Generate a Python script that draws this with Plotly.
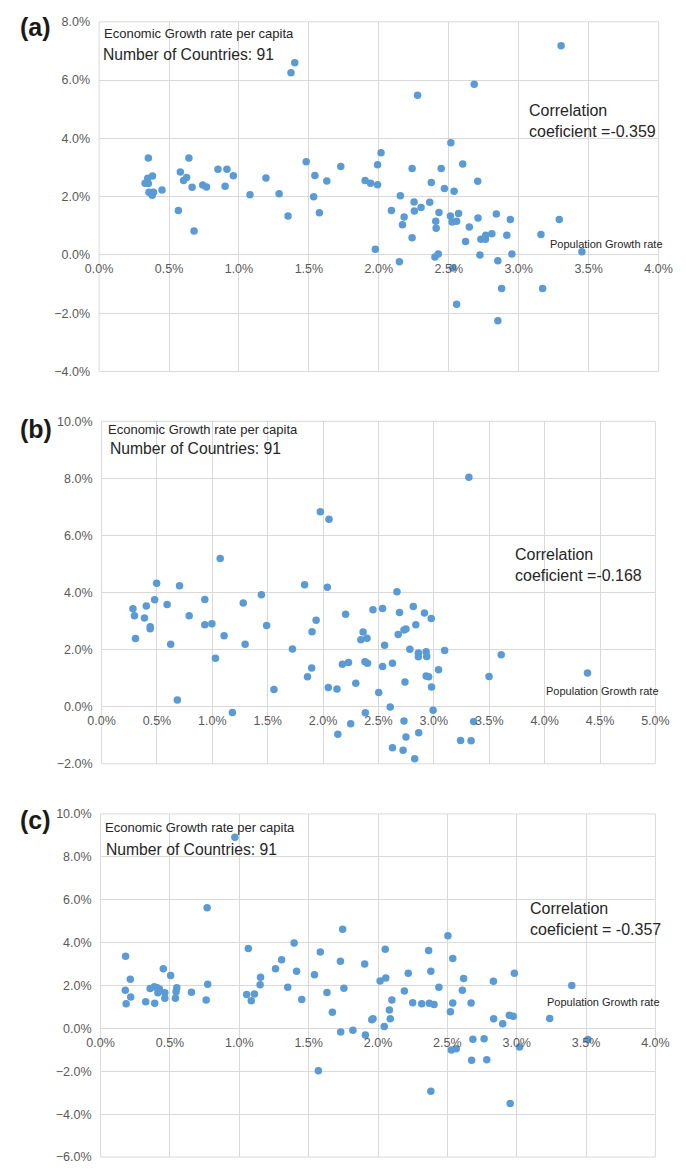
import plotly.graph_objects as go

W, H = 686, 1169

# ---------------- data (percent) ----------------
# Panel (a)
xa = [0.352,0.348,0.329,0.352,0.382,0.357,0.389,0.380,0.450,0.567,0.581,0.604,0.626,0.642,0.665,0.679,0.741,0.768,0.850,0.914,0.901,0.960,1.079,1.193,1.287,1.351,1.372,1.399,1.481,1.543,1.534,1.575,1.628,1.728,
      1.902,1.941,1.991,1.991,2.016,1.975,2.090,2.154,2.181,2.169,2.147,2.238,2.252,2.254,2.238,2.277,2.302,2.364,2.375,2.430,2.407,2.410,2.401,2.425,2.446,2.469,2.515,2.512,2.524,2.556,2.570,2.538,2.529,2.556,2.600,2.647,2.620,2.682,2.707,2.709,2.723,2.730,2.762,2.764,2.808,2.840,2.851,2.878,2.851,2.915,2.940,2.951,3.159,3.171,3.290,3.303,3.452]
ya = [3.33,2.63,2.46,2.45,2.71,2.15,2.15,2.05,2.23,1.53,2.85,2.56,2.66,3.33,2.32,0.82,2.40,2.33,2.94,2.94,2.36,2.72,2.07,2.64,2.10,1.34,6.25,6.60,3.20,2.73,2.00,1.45,2.54,3.04,
      2.56,2.46,2.41,3.10,3.51,0.20,1.53,2.03,1.30,1.04,-0.23,2.97,1.82,1.51,0.59,5.48,1.63,1.81,2.49,1.46,1.16,0.92,-0.07,0.03,2.97,2.28,3.85,1.34,1.13,1.16,1.42,2.19,-0.45,-1.69,3.12,0.96,0.46,5.86,2.53,1.27,0.00,0.54,0.54,0.68,0.73,1.41,-0.20,-1.15,-2.26,0.68,1.22,0.03,0.70,-1.15,1.22,7.18,0.11]

# Panel (b)
xb = [0.283,0.297,0.306,0.387,0.404,0.439,0.439,0.479,0.497,0.592,0.624,0.684,0.704,0.791,0.932,0.932,0.996,1.028,1.071,1.106,1.181,1.279,1.296,1.443,1.490,1.556,1.723,1.833,1.859,1.897,1.900,1.937,1.975,2.053,2.038,2.047,2.125,2.133,2.174,2.203,2.229,
      2.249,2.295,2.361,2.341,2.396,2.378,2.401,2.381,2.450,2.502,2.537,2.555,2.537,2.606,2.626,2.626,2.667,2.690,2.678,2.730,2.748,2.739,2.730,2.748,2.722,2.783,2.814,2.837,2.860,2.860,2.863,2.827,2.915,2.930,2.935,2.930,2.953,2.976,2.979,2.993,3.042,3.097,3.241,3.316,3.336,3.359,3.498,3.608,4.387]
yb = [3.43,3.19,2.39,3.11,3.53,2.80,2.73,3.75,4.33,3.58,2.19,0.24,4.24,3.19,3.76,2.87,2.91,1.70,5.19,2.49,-0.20,3.63,2.19,3.92,2.85,0.60,2.02,4.27,1.05,1.36,2.63,3.03,6.83,6.57,4.19,0.67,0.62,-0.96,1.49,3.24,1.55,
      -0.60,0.82,2.62,2.35,2.40,1.58,1.52,-0.21,3.40,0.50,3.44,2.15,1.41,-0.01,1.52,-1.44,4.03,3.30,2.53,2.69,2.72,0.87,-0.50,-1.06,-1.52,2.01,3.51,2.87,1.88,1.75,-0.91,-1.82,3.28,1.93,1.76,1.08,1.05,3.09,0.69,-0.12,1.30,1.97,-1.18,8.04,-1.19,-0.52,1.06,1.82,1.18]

# Panel (c)
xc = [0.180,0.178,0.184,0.214,0.217,0.325,0.357,0.387,0.390,0.408,0.413,0.424,0.452,0.463,0.463,0.505,0.539,0.544,0.549,0.655,0.761,0.768,0.772,0.968,1.053,1.065,1.086,1.109,1.150,1.153,1.261,1.305,1.349,1.395,1.413,1.450,1.542,1.570,1.584,1.632,1.671,1.729,1.731,1.745,1.754,
      1.819,1.904,1.909,1.955,1.964,2.015,2.045,2.052,2.056,2.082,2.088,2.100,2.190,2.218,2.250,2.315,2.365,2.370,2.381,2.381,2.404,2.439,2.504,2.522,2.539,2.539,2.529,2.564,2.608,2.617,2.671,2.675,2.684,2.765,2.784,2.832,2.834,2.899,2.947,2.975,2.953,2.983,3.020,3.238,3.397,3.513]
yc = [3.36,1.78,1.15,2.29,1.46,1.24,1.86,1.94,1.17,1.89,1.66,1.84,2.78,1.66,1.41,2.47,1.41,1.71,1.89,1.69,1.32,5.62,2.06,8.91,1.58,3.72,1.29,1.60,2.03,2.38,2.78,3.20,1.92,3.98,2.66,1.35,2.50,-1.98,3.56,1.67,0.75,3.13,-0.17,4.62,1.87,
      -0.09,3.00,-0.31,0.40,0.45,2.21,0.09,3.69,2.35,0.86,0.45,1.32,1.74,2.57,1.20,1.15,3.63,1.17,2.66,-2.93,1.11,1.92,4.32,0.78,3.26,1.18,-1.01,-0.95,1.78,2.33,1.18,-1.49,-0.51,-0.48,-1.46,2.20,0.45,0.22,0.61,0.57,-3.50,2.57,-0.87,0.46,2.00,-0.52]

panel_labels = ["(a)", "(b)", "(c)"]
corr_texts = ["Correlation<br>coeficient =-0.359",
              "Correlation<br>coeficient =-0.168",
              "Correlation<br>coeficient = -0.357"]
y_title = "Economic Growth rate per capita"
n_text = "Number of Countries: 91"
x_title = "Population Growth rate"
x_ranges = [(0, 4), (0, 5), (0, 4)]
y_ranges = [(-4, 8), (-2, 10), (-6, 10)]

# ---------------- layout geometry (pixels) ----------------
panels = [
    dict(l=88.7, r=672.0, t=15.0, b=369.0,
         lab=(5, 20), ytl=(93, 27), ntl=(92, 47.7), cor=(536, 115), pop=(557.7, 239.5)),
    dict(l=91.3, r=668.7, t=419.3, b=766.0,
         lab=(5, 427), ytl=(97.3, 427.7), ntl=(98.7, 446.7), cor=(521.3, 564.3), pop=(554, 692.3)),
    dict(l=90.3, r=668.7, t=816.7, b=1164.0,
         lab=(5, 823), ytl=(94, 830), ntl=(95, 852.3), cor=(537, 922.7), pop=(554.7, 1007.3)),
]

FONT = "Liberation Sans, Arial, sans-serif"
GRID = "#d9d9d9"
BLUE = "#5b9bd5"

def px(x):
    return x / W

def py(y):
    return 1 - y / H

fig = go.Figure()
datasets = [(xa, ya), (xb, yb), (xc, yc)]
annotations = []
shapes = []
layout = dict(width=W, height=H, margin=dict(l=0, r=0, t=0, b=0),
              paper_bgcolor="white", plot_bgcolor="white", showlegend=False,
              font=dict(family=FONT, color="#404040"))

for i, ((xs, ys), p) in enumerate(zip(datasets, panels)):
    sfx = "" if i == 0 else str(i + 1)
    fig.add_trace(go.Scatter(x=xs, y=ys, mode="markers",
                             xaxis="x" + sfx, yaxis="y" + sfx,
                             marker=dict(color=BLUE, size=7.5, line=dict(width=0)),
                             cliponaxis=False, hoverinfo="skip"))
    y0, y1 = y_ranges[i]
    zero_px = p["t"] + (p["b"] - p["t"]) * (y1 - 0) / (y1 - y0)
    layout["xaxis" + sfx] = dict(
        domain=[px(p["l"]), px(p["r"])], range=list(x_ranges[i]),
        anchor="free", position=py(zero_px),
        tick0=0, dtick=0.5, tickformat=".1f", ticksuffix="%",
        showgrid=True, gridcolor=GRID, gridwidth=1, zeroline=False, showline=False,
        ticks="", ticklabelstandoff=5,
        tickfont=dict(family=FONT, size=12.5, color="#595959"), fixedrange=True)
    layout["yaxis" + sfx] = dict(
        domain=[py(p["b"]), py(p["t"])], range=list(y_ranges[i]),
        anchor="x" + sfx, tick0=0, dtick=2, tickformat=".1f", ticksuffix="%",
        showgrid=True, gridcolor=GRID, gridwidth=1, zeroline=False, showline=False,
        ticks="", ticklabelstandoff=8,
        tickfont=dict(family=FONT, size=12.5, color="#595959"), fixedrange=True)
    shapes.append(dict(type="rect", xref="x" + sfx + " domain", yref="y" + sfx + " domain",
                       x0=0, x1=1, y0=0, y1=1, line=dict(color=GRID, width=1), layer="below"))

    def ann(text, pos, size, color="#262626", bold=False):
        annotations.append(dict(text=("<b>%s</b>" % text) if bold else text,
                                x=px(pos[0]), y=py(pos[1]), xref="paper", yref="paper",
                                xanchor="left", yanchor="middle", showarrow=False,
                                align="left", borderpad=0,
                                font=dict(family=FONT, size=size, color=color)))
    ann(panel_labels[i], p["lab"], 25, color="#1a1a1a", bold=True)
    ann(y_title, p["ytl"], 13)
    ann(n_text, p["ntl"], 15.7)
    ann(corr_texts[i], p["cor"], 16)
    ann(x_title, p["pop"], 11)

layout["annotations"] = annotations
layout["shapes"] = shapes
fig.update_layout(**layout)
fig.write_html("out.html")
